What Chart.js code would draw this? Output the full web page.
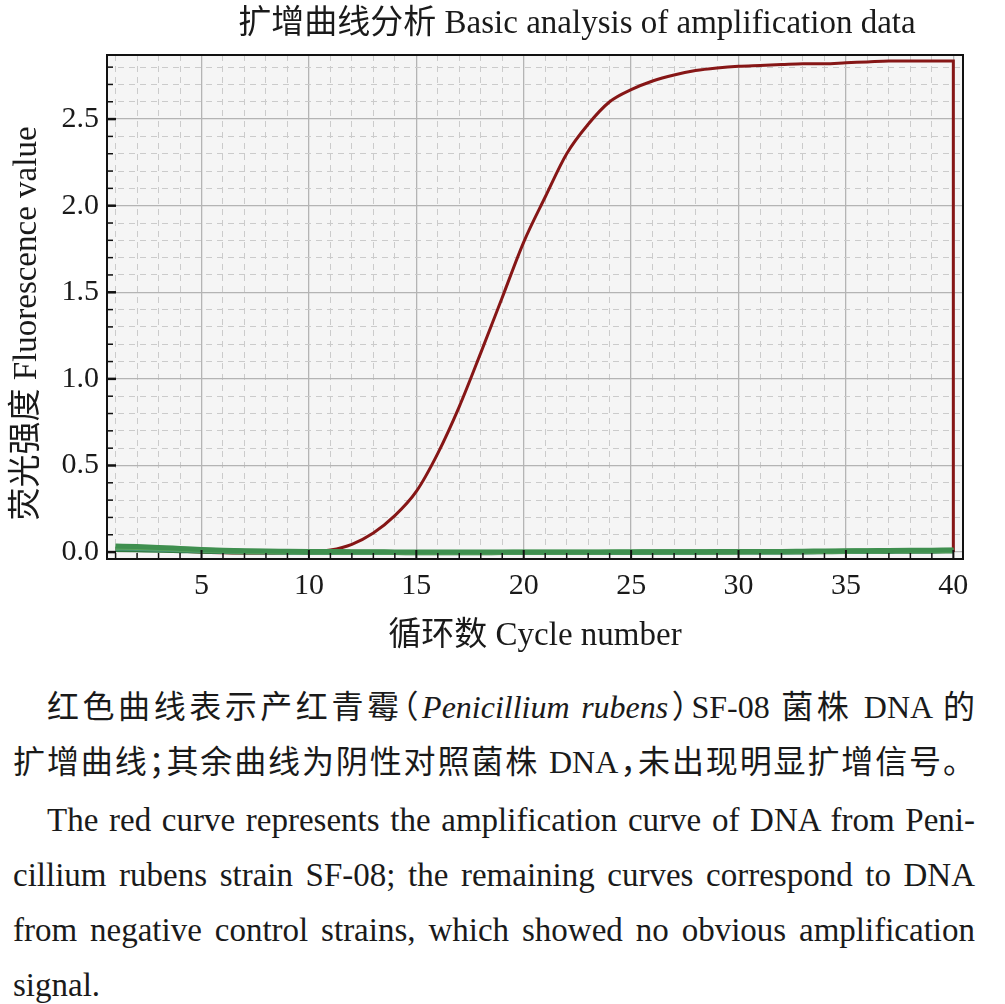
<!DOCTYPE html>
<html>
<head>
<meta charset="utf-8">
<script src="https://cdn.jsdelivr.net/npm/chart.js@4.4.1/dist/chart.umd.min.js"></script>
<style>
  body { margin: 0; background: #fff; font-family: "Liberation Serif", "Noto Sans CJK SC", serif; color: #1a1a1a; }
  #wrap { position: relative; width: 1005px; height: 1004px; overflow: hidden; }
  #title { position: absolute; top: 3px; left: 577px; transform: translateX(-50%); white-space: nowrap;
           font-size: 33px; line-height: 38px; }
  #chartBox { position: absolute; top: 0; left: 0; width: 1005px; height: 665px; }
  #caption { position: absolute; top: 680px; left: 13px; width: 962px; font-size: 32px; line-height: 55px; }
  .ln { text-align: justify; text-align-last: justify; white-space: nowrap; }
  .ln.last { text-align-last: left; }
  .en { font-size: 33px; }
  .ind { padding-left: 34px; }
  .gap { margin-top: 3px; }
  .p { font-feature-settings: "halt"; }
</style>
</head>
<body>
<div id="wrap">
  <div id="chartBox"><canvas id="pcrChart" width="1005" height="665"></canvas></div>
  <div id="title">扩增曲线分析 Basic analysis of amplification data</div>
  <div id="caption">
    <div class="ln ind">红色曲线表示产红青霉<span class="p">（</span><i>Penicillium rubens</i><span class="p">）</span>SF-08 菌株 DNA 的</div>
    <div class="ln">扩增曲线<span class="p">；</span>其余曲线为阴性对照菌株 DNA<span class="p">，</span>未出现明显扩增信号。</div>
    <div class="ln en ind gap">The red curve represents the amplification curve of DNA from Peni-</div>
    <div class="ln en">cillium rubens strain SF-08; the remaining curves correspond to DNA</div>
    <div class="ln en">from negative control strains, which showed no obvious amplification</div>
    <div class="ln en last">signal.</div>
  </div>
</div>

<script>
// Cycle numbers and fluorescence readings
const cycles = [1,2,3,4,5,6,7,8,9,10,11,12,13,14,15,16,17,18,19,20,
                21,22,23,24,25,26,27,28,29,30,31,32,33,34,35,36,37,38,39,40];

// SF-08 (Penicillium rubens) - amplifies
const sf08 = [0.020,0.015,0.010,0.005,0.000,-0.004,-0.005,-0.005,-0.003,0.000,
              0.012,0.045,0.110,0.210,0.350,0.570,0.840,1.150,1.470,1.790,
              2.050,2.300,2.470,2.600,2.670,2.720,2.755,2.780,2.795,2.805,
              2.810,2.815,2.820,2.820,2.825,2.830,2.835,2.835,2.835,2.835];
const sf08EndDrop = 0.0; // trace falls back to baseline after the last cycle

// negative controls
const neg1 = [0.035,0.032,0.027,0.021,0.015,0.011,0.008,0.006,0.005,0.004,
              0.003,0.002,0.002,0.001,0.001,0.001,0.000,0.000,0.000,0.000,
              0.000,0.001,0.001,0.001,0.001,0.002,0.002,0.002,0.003,0.003,
              0.004,0.004,0.005,0.006,0.007,0.008,0.009,0.010,0.011,0.012];
const neg2 = [0.028,0.026,0.022,0.017,0.012,0.008,0.005,0.003,0.002,0.001,
              0.000,-0.001,-0.001,-0.002,-0.002,-0.002,-0.002,-0.002,-0.002,-0.001,
              -0.001,-0.001,-0.001,0.000,0.000,0.000,0.000,0.001,0.001,0.001,
              0.002,0.002,0.003,0.004,0.005,0.006,0.007,0.008,0.009,0.010];
const neg3 = [0.022,0.020,0.017,0.013,0.009,0.006,0.004,0.002,0.001,0.000,
              -0.001,-0.002,-0.002,-0.003,-0.003,-0.003,-0.003,-0.003,-0.003,-0.003,
              -0.002,-0.002,-0.002,-0.002,-0.001,-0.001,-0.001,0.000,0.000,0.000,
              0.001,0.001,0.002,0.003,0.004,0.005,0.006,0.007,0.008,0.009];
const neg4 = [0.015,0.013,0.011,0.008,0.005,0.003,0.001,0.000,-0.001,-0.002,
              -0.002,-0.003,-0.003,-0.003,-0.004,-0.004,-0.004,-0.004,-0.003,-0.003,
              -0.003,-0.003,-0.002,-0.002,-0.002,-0.002,-0.001,-0.001,-0.001,0.000,
              0.000,0.001,0.001,0.002,0.003,0.003,0.004,0.005,0.005,0.006];

const xMajor = [5,10,15,20,25,30,35,40];
const yMajor = [0.0,0.5,1.0,1.5,2.0,2.5];

const toPoints = vals => vals.map((v, i) => ({x: cycles[i], y: v}));
const isMajorY = v => yMajor.some(m => Math.abs(m - v) < 1e-6);

const serif = '"Liberation Serif", "Noto Sans CJK SC", serif';

// light gray plot background
const plotBg = {
  id: 'plotBg',
  beforeDraw(chart) {
    const {ctx, chartArea: a} = chart;
    ctx.save();
    ctx.fillStyle = '#f5f5f5';
    ctx.fillRect(a.left, a.top, a.right - a.left, a.bottom - a.top);
    ctx.restore();
  }
};

// frame + inward tick marks
const frameTicks = {
  id: 'frameTicks',
  afterDraw(chart) {
    const {ctx, chartArea: a, scales} = chart;
    ctx.save();
    ctx.strokeStyle = '#111';
    scales.x.ticks.forEach(t => {
      const px = scales.x.getPixelForValue(t.value);
      const major = xMajor.includes(t.value);
      ctx.lineWidth = major ? 2 : 1.5;
      ctx.beginPath();
      ctx.moveTo(px, a.bottom);
      ctx.lineTo(px, a.bottom - (major ? 9 : 6));
      ctx.stroke();
    });
    scales.y.ticks.forEach(t => {
      const py = scales.y.getPixelForValue(t.value);
      const major = isMajorY(t.value);
      ctx.lineWidth = major ? 2.5 : 1.5;
      ctx.beginPath();
      ctx.moveTo(a.left, py);
      ctx.lineTo(a.left + (major ? 9 : 6), py);
      ctx.stroke();
    });
    ctx.lineWidth = 2;
    ctx.strokeRect(a.left, a.top, a.right - a.left, a.bottom - a.top);
    ctx.restore();
  }
};

const sf08Points = toPoints(sf08);
sf08Points.push({x: cycles[cycles.length - 1], y: sf08EndDrop});

const ctx = document.getElementById('pcrChart').getContext('2d');
const chart = new Chart(ctx, {
  type: 'line',
  data: {
    datasets: [
      { label: 'NC 1', data: toPoints(neg1), borderColor: '#3f8f4f', borderWidth: 5 },
      { label: 'NC 2', data: toPoints(neg2), borderColor: '#5aa35c', borderWidth: 5 },
      { label: 'NC 3', data: toPoints(neg3), borderColor: '#4a9479', borderWidth: 5 },
      { label: 'NC 4', data: toPoints(neg4), borderColor: '#2f7a3e', borderWidth: 5 },
      { label: 'SF-08', data: sf08Points, borderColor: '#861616', borderWidth: 3 }
    ]
  },
  options: {
    responsive: false,
    animation: false,
    elements: {
      point: { radius: 0 },
      line: { cubicInterpolationMode: 'monotone', fill: false }
    },
    layout: { padding: { top: 55, right: 42, left: 0, bottom: 0 } },
    plugins: {
      legend: { display: false },
      tooltip: { enabled: false },
      title: { display: false }
    },
    scales: {
      x: {
        type: 'linear',
        min: 0.6,
        max: 40.45,
        afterFit: s => { s.height = 106; },
        border: {
          display: false,
          dash: c => (c.tick && !xMajor.includes(c.tick.value)) ? [6, 5] : []
        },
        grid: {
          drawTicks: false,
          color: c => (c.tick && xMajor.includes(c.tick.value)) ? '#b4b4b4' : '#cbcbcb',
          lineWidth: c => (c.tick && xMajor.includes(c.tick.value)) ? 1.3 : 1
        },
        ticks: {
          stepSize: 1,
          includeBounds: false,
          autoSkip: false,
          maxRotation: 0,
          padding: 9,
          color: '#1a1a1a',
          font: { family: serif, size: 30 },
          callback: v => xMajor.includes(v) ? String(v) : ''
        },
        title: {
          display: true,
          text: '循环数 Cycle number',
          color: '#1a1a1a',
          font: { family: serif, size: 33 },
          padding: { top: 8, bottom: 9 }
        }
      },
      y: {
        type: 'linear',
        min: -0.04,
        max: 2.87,
        afterFit: s => { s.width = 107; },
        border: {
          display: false,
          dash: c => (c.tick && !isMajorY(c.tick.value)) ? [6, 5] : []
        },
        grid: {
          drawTicks: false,
          color: c => (c.tick && isMajorY(c.tick.value)) ? '#b4b4b4' : '#cbcbcb',
          lineWidth: c => (c.tick && isMajorY(c.tick.value)) ? 1.3 : 1
        },
        ticks: {
          stepSize: 0.1,
          includeBounds: false,
          autoSkip: false,
          padding: 8,
          color: '#1a1a1a',
          font: { family: serif, size: 30 },
          callback: v => isMajorY(v) ? v.toFixed(1) : ''
        },
        title: {
          display: true,
          text: '荧光强度 Fluorescence value\u00a0\u00a0\u00a0\u00a0',
          color: '#1a1a1a',
          font: { family: serif, size: 33 },
          padding: { top: 8, bottom: 2 }
        }
      }
    }
  },
  plugins: [plotBg, frameTicks]
});
</script>
</body>
</html>
